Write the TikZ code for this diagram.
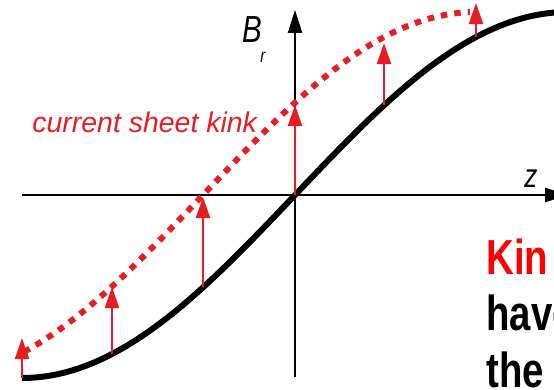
\documentclass[tikz,border=0pt]{standalone}
\usepackage{fontspec}
\setmainfont{Liberation Sans}
\newfontfamily\narrowsans[FakeStretch=0.78]{Liberation Sans}
\usetikzlibrary{arrows.meta}
\definecolor{kinkred}{RGB}{230,30,36}

\begin{document}
\begin{tikzpicture}[x=0.02cm, y=-0.02cm,
  axis/.style={line width=1.1pt, -{Triangle[length=13pt, width=8pt]}},
  sheet/.style={line width=3.4pt},
  kink/.style={kinkred, line width=3.4pt, dash pattern=on 3.7pt off 4pt},
  push/.style={kinkred, line width=1.3pt, -{Triangle[length=12pt, width=8pt]}},
  lbl/.style={inner sep=0pt, anchor=base west},
  note/.style={lbl, font=\narrowsans\fontsize{28}{32}\selectfont\bfseries}]
  \useasboundingbox (0,0) rectangle (554,389);
  \clip (0,0) rectangle (554,389);

  % axes
  \coordinate (zl) at (22,195);
  \coordinate (zr) at (568,195);
  \coordinate (bb) at (295,377);
  \coordinate (bt) at (295,10);
  \draw[axis] (zl) -- (zr);
  \draw[axis] (bb) -- (bt);

  % field profile and kinked sheet
  \draw[sheet] plot[domain=22:560, samples=90, smooth] (\x,{195-183*sin(0.32967*(\x-295))});
  \draw[kink] plot[domain=24:470, samples=80, smooth] (\x,{195-183*sin(0.32967*(\x-203))});

  % displacement arrows
  \foreach \x/\t [count=\i] in {22/338, 112/287, 203/197, 295/105, 384/43, 476/3} {
    \coordinate (p\i) at (\x,{195-183*sin(0.32967*(\x-295))});
    \coordinate (q\i) at (\x,\t);
    \draw[push] (p\i) -- (q\i);
  }

  % labels
  \node[lbl, font=\narrowsans\fontsize{21.5}{24}\selectfont\itshape] (br) at (242,42)
    {B\kern-1pt\raisebox{-11.9pt}{\fontsize{11}{12}\selectfont r}};
  \node[lbl, font=\narrowsans\fontsize{19}{22}\selectfont\itshape] (zlab) at (524,187) {z};
  \node[lbl, kinkred, font=\fontsize{16.2}{19}\selectfont\itshape] (kinklab) at (32,132) {current sheet kink};
  \node[note, red] (note1) at (486,274) {Kin};
  \node[note] (note2) at (486,330) {have};
  \node[note] (note3) at (486,387) {the};
\end{tikzpicture}
\end{document}
